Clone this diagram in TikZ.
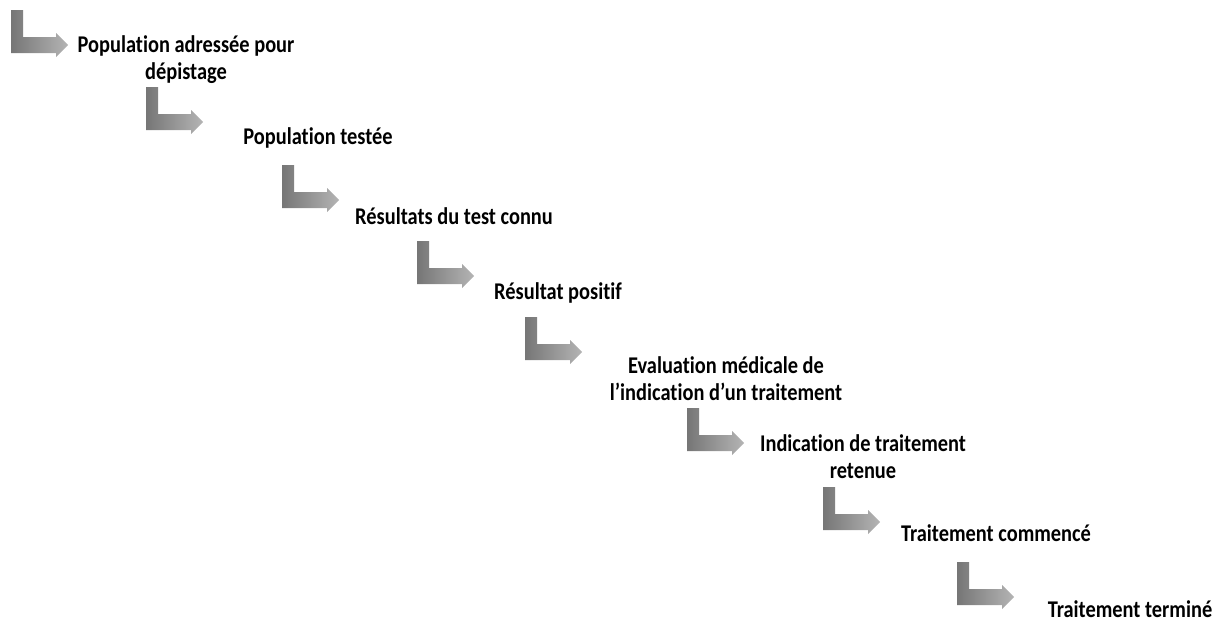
\documentclass[tikz,border=0pt]{standalone}
\usepackage{fontspec}
\newfontfamily\labelfont{Carlito}[FakeStretch=0.85,Ligatures=NoCommon]
\usepackage{tikz}
\definecolor{arrowdark}{RGB}{118,118,118}
\definecolor{arrowlight}{RGB}{180,180,180}
\tikzset{
 bentarrow/.style={left color=arrowdark,right color=arrowlight,draw=none},
 steplabel/.style={font=\labelfont\bfseries\fontsize{24}{27}\selectfont,align=center,inner sep=0pt}
}
\newcommand{\bentarrow}[1]{%
 \shade[bentarrow,shift={(#1)}] (0,0) -- (12,0) -- (12,27) -- (45,27) -- (45,23) -- (57,35)
   -- (45,47) -- (45,43) -- (0,43) -- cycle;}

\begin{document}
\begin{tikzpicture}[x=1pt,y=-1pt]
 \useasboundingbox (0,0) rectangle (1222,621);
 % arrows
 \bentarrow{11,10}
 \bentarrow{146,87}
 \bentarrow{282,165}
 \bentarrow{417,241}
 \bentarrow{525,317}
 \bentarrow{687,408}
 \bentarrow{823,487}
 \bentarrow{957,562}
 % steps
 \node[steplabel] (adressee) at (186,59.5) {Population adressée pour\\dépistage};
 \node[steplabel] (testee) at (318,138) {Population testée};
 \node[steplabel] (connu) at (454,216) {Résultats du test connu};
 \node[steplabel] (positif) at (558,293) {Résultat positif};
 \node[steplabel] (evaluation) at (726,379) {Evaluation médicale de\\l’indication d’un traitement};
 \node[steplabel] (retenue) at (863,456.5) {Indication de traitement\\retenue};
 \node[steplabel] (commence) at (996,533) {Traitement commencé};
 \node[steplabel] (termine) at (1130,609) {Traitement terminé};
\end{tikzpicture}
\end{document}
